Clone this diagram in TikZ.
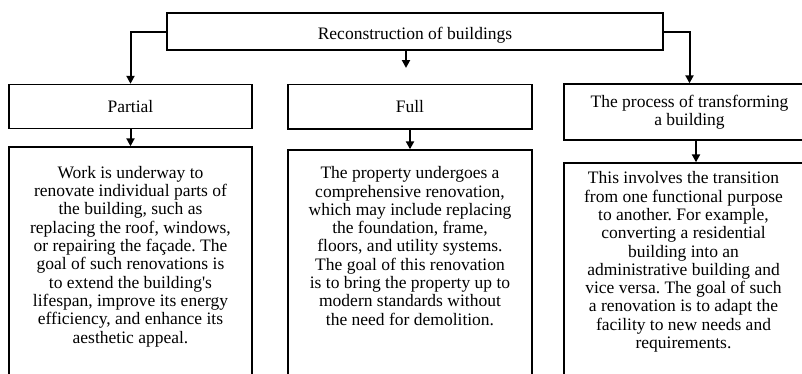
\documentclass[tikz,border=0pt]{standalone}
\usepackage{fontspec}
\setmainfont{Liberation Serif}[Ligatures=TeXOff]
\usetikzlibrary{arrows.meta}
\frenchspacing
\begin{document}
\begin{tikzpicture}[x=1pt,y=-1pt,
  box/.style={draw=black, line width=1.4pt, fill=white, inner sep=0pt, align=center,
    font=\fontsize{17.5}{18.3}\selectfont},
  bodytext/.style={inner sep=0pt, align=center, font=\fontsize{17.5}{18.3}\selectfont},
  arr/.style={line width=2pt, -{Triangle[length=8pt,width=8pt]}}]
\useasboundingbox (0,0) rectangle (802,373);
\clip (0,0) rectangle (802,373);
% header boxes
\node[box, minimum width=496pt, minimum height=37pt] (top) at (415,31.5) {\raisebox{-7.5pt}[0pt][0pt]{Reconstruction of buildings}};
\node[box, minimum width=243pt, minimum height=44pt] (pbox) at (130.5,106.5) {Partial};
\node[box, minimum width=244pt, minimum height=44.5pt] (fbox) at (410,106.8) {Full};
\node[box, minimum width=251pt, minimum height=56pt] (prbox) at (689.5,112) {The process of transforming\\a building};
% description frames (open at the bottom edge)
\node[box, minimum width=243pt, minimum height=253pt] (pframe) at (130.5,273.5) {};
\node[box, minimum width=244pt, minimum height=250pt] (fframe) at (410,275) {};
\node[box, minimum width=239pt, minimum height=237pt] (prframe) at (683.5,281.5) {};
% description texts
\node[bodytext] (ptxt) at (130.5,256.5) {Work is underway to\\renovate individual parts of\\the building, such as\\replacing the roof, windows,\\or repairing the façade. The\\goal of such renovations is\\to extend the building's\\lifespan, improve its energy\\efficiency, and enhance its\\aesthetic appeal.};
\node[bodytext] (ftxt) at (410,246) {The property undergoes a\\comprehensive renovation,\\which may include replacing\\the foundation, frame,\\floors, and utility systems.\\The goal of this renovation\\is to bring the property up to\\modern standards without\\the need for demolition.};
\node[bodytext] (prtxt) at (683.5,262) {This involves the transition\\from one functional purpose\\to another. For example,\\converting a residential\\building into an\\administrative building and\\vice versa. The goal of such\\a renovation is to adapt the\\facility to new needs and\\requirements.};
% connectors
\coordinate (midend) at (406,68);
\coordinate (px) at (696,0);
\draw[arr] (top.west) -| (pbox.north);
\draw[arr] (top.east) -| (prbox.north);
\draw[arr] (top.south -| midend) -- (midend);
\draw[arr] (pbox.south) -- (pframe.north);
\draw[arr] (fbox.south) -- (fframe.north);
\draw[arr] (prbox.south -| px) -- (prframe.north -| px);
\end{tikzpicture}
\end{document}
